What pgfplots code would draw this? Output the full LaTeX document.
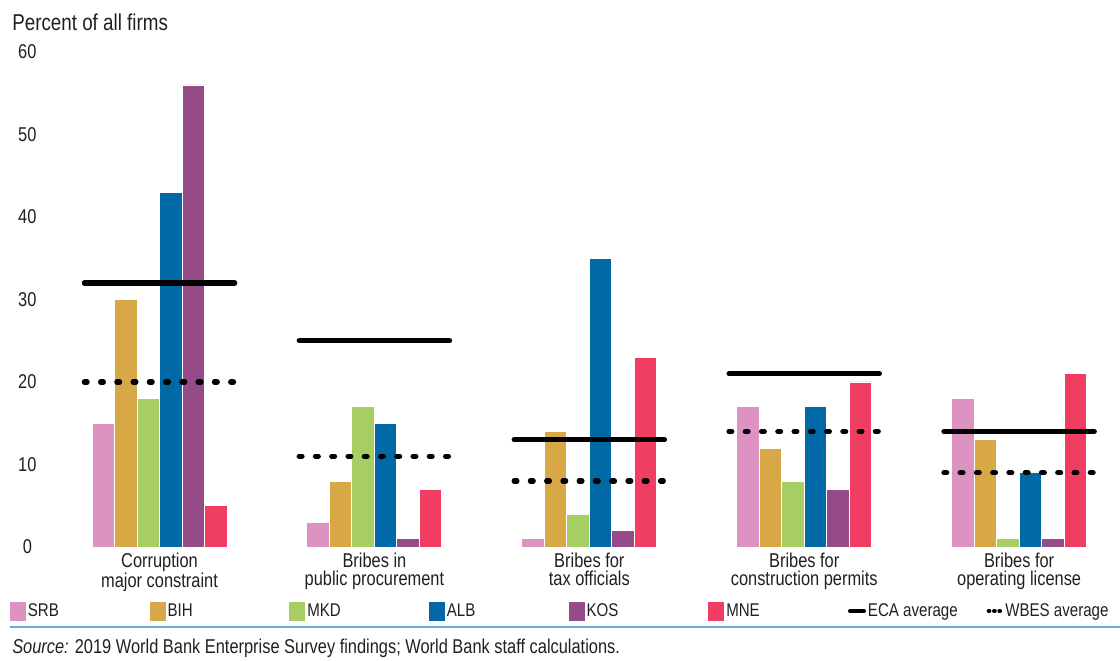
\documentclass[border=0pt]{standalone}
\usepackage{pgfplots}
\pgfplotsset{compat=1.18}
\usepackage{fontspec}
\setmainfont[FakeStretch=0.82]{Liberation Sans}

\definecolor{srb}{HTML}{DD93C1}
\definecolor{bih}{HTML}{D9A846}
\definecolor{mkd}{HTML}{A6CE63}
\definecolor{alb}{HTML}{0069A6}
\definecolor{kos}{HTML}{944B87}
\definecolor{mne}{HTML}{EF3E62}
\definecolor{rulecol}{HTML}{6FA8D6}
\definecolor{txt}{HTML}{231F20}

\pgfplotsset{
  country/.style={ybar, bar width=0.1047, bar shift=#1, draw=white, line width=0.7pt},
  sq/.style={legend image code/.code={\fill[#1] (0pt,-6.75pt) rectangle (11.25pt,6.75pt);}},
}

\begin{document}
\begin{tikzpicture}[every node/.style={text=txt}]
\useasboundingbox (-31pt,-84.75pt) rectangle (809pt,410.25pt);
\begin{axis}[
  at={(0,0)}, anchor=south west,
  scale only axis, width=805.875pt, height=371.25pt,
  xmin=-0.55, xmax=4.45, ymin=0, ymax=60,
  ytick={0,10,...,60},
  xtick={0,1,2,3,4},
  xticklabels={Corruption\\major constraint, Bribes in\\public procurement, Bribes for\\tax officials, Bribes for\\construction permits, Bribes for\\operating license},
  xticklabel style={align=center, font=\fontsize{15}{13.5}\selectfont, inner sep=0pt, yshift=-4pt},
  yticklabel style={anchor=center, xshift=-10.5pt, font=\fontsize{15}{15}\selectfont},
  axis line style={draw=none},
  tick style={draw=none},
  /pgf/number format/assume math mode=true,
  legend columns=8,
  legend cell align=left,
  legend style={
    at={(0,0)}, anchor=west, xshift=-23.5pt, yshift=-48pt,
    draw=none, fill=none, inner sep=0pt, outer sep=0pt,
    font=\fontsize{13.8}{13.8}\selectfont,
    nodes={inner sep=0pt},
    /tikz/every even column/.append style={column sep=0pt},
    /tikz/every odd column/.append style={column sep=1.5pt},
  },
]
\addplot[country=-0.26175, fill=srb, sq=srb] coordinates {(0,15) (1,3) (2,1) (3,17) (4,18)};
\addlegendentry{\makebox[91.3pt][l]{SRB}}
\addplot[country=-0.15705, fill=bih, sq=bih] coordinates {(0,30) (1,8) (2,14) (3,12) (4,13)};
\addlegendentry{\makebox[91.3pt][l]{BIH}}
\addplot[country=-0.05235, fill=mkd, sq=mkd] coordinates {(0,18) (1,17) (2,4) (3,8) (4,1)};
\addlegendentry{\makebox[91.3pt][l]{MKD}}
\addplot[country=0.05235, fill=alb, sq=alb] coordinates {(0,43) (1,15) (2,35) (3,17) (4,9)};
\addlegendentry{\makebox[91.3pt][l]{ALB}}
\addplot[country=0.15705, fill=kos, sq=kos] coordinates {(0,56) (1,1) (2,2) (3,7) (4,1)};
\addlegendentry{\makebox[91.3pt][l]{KOS}}
\addplot[country=0.26175, fill=mne, sq=mne] coordinates {(0,5) (1,7) (2,23) (3,20) (4,21)};
\addlegendentry{\makebox[91.3pt][l]{MNE}}
% ECA average: one short segment per category
\addplot[black, line width=3.8pt, line cap=round, unbounded coords=jump,
  legend image code/.code={\draw[black, line width=3pt] (0pt,0pt) -- (10.5pt,0pt);}]
  coordinates {(-0.35,32) (0.35,32) (0.5,nan) (0.65,25) (1.35,25) (1.5,nan)
               (1.65,13) (2.35,13) (2.5,nan) (2.65,21) (3.35,21) (3.5,nan)
               (3.65,14) (4.35,14)};
\addlegendentry{\makebox[89pt][l]{ECA average}}
% WBES average: dotted segments
\addplot[black, line width=3.9pt, line cap=round, dash pattern=on 2.1pt off 10.1pt,
  unbounded coords=jump,
  legend image code/.code={\draw[black, line width=3pt, line cap=round, dash pattern=on 0.6pt off 3.4pt] (1.5pt,0pt) -- (11pt,0pt);}]
  coordinates {(-0.35,20) (0.35,20) (0.5,nan) (0.65,11) (1.35,11) (1.5,nan)
               (1.65,8) (2.35,8) (2.5,nan) (2.65,14) (3.35,14) (3.5,nan)
               (3.65,9) (4.35,9)};
\addlegendentry{WBES average}
\end{axis}
\node[anchor=west, inner sep=0pt, font=\fontsize{17.2}{17.2}\selectfont] at (-22pt,393.75pt) {Percent of all firms};
\draw[rulecol, line width=1.5pt] (-23.5pt,-60pt) -- (809pt,-60pt);
\node[anchor=west, inner sep=0pt, font=\fontsize{15}{15}\selectfont] at (-22pt,-75.75pt)
  {\textit{Source:} 2019 World Bank Enterprise Survey findings; World Bank staff calculations.};
\end{tikzpicture}
\end{document}
